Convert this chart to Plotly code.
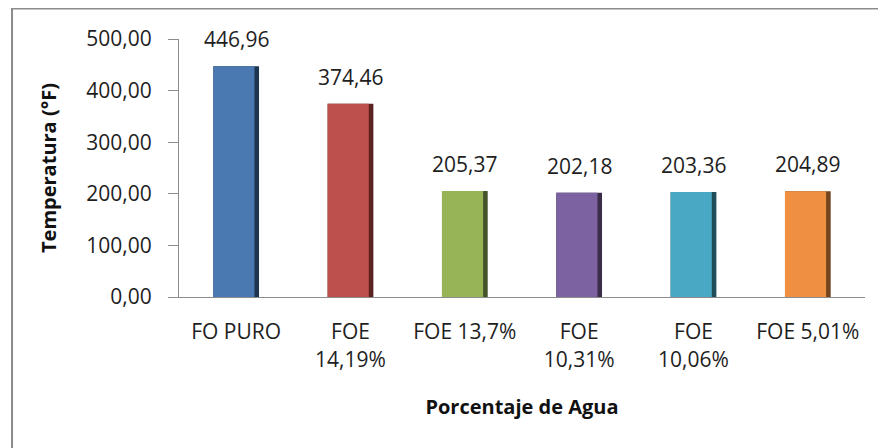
import plotly.graph_objects as go

categories = ["FO PURO", "FOE 14,19%", "FOE 13,7%", "FOE 10,31%", "FOE 10,06%", "FOE 5,01%"]
tick_labels = ["FO PURO", "FOE<br>14,19%", "FOE 13,7%", "FOE<br>10,31%", "FOE<br>10,06%", "FOE 5,01%"]
temperatures = [446.96, 374.46, 205.37, 202.18, 203.36, 204.89]
bar_colors = ["#4a78b0", "#bd4f4c", "#97b556", "#7c62a0", "#49a8c3", "#ef8f42"]
edge_colors = ["#1f344f", "#5a2321", "#46542a", "#3a2d4a", "#214d59", "#71431e"]

y_title = "Temperatura (°F)"
x_title = "Porcentaje de Agua"

FONT = "Open Sans"

fig = go.Figure()
# darker body (acts as right-side shading)
fig.add_trace(go.Bar(
    x=categories, y=temperatures, width=0.4,
    marker=dict(color=edge_colors, line=dict(width=0)),
    hoverinfo="skip", showlegend=False,
))
# main face
fig.add_trace(go.Bar(
    x=categories, y=temperatures, width=0.36, offset=-0.2,
    marker=dict(color=bar_colors, line=dict(width=0)),
    showlegend=False,
))

for c, v in zip(categories, temperatures):
    fig.add_annotation(
        x=c, y=v, xref="x", yref="y", yanchor="bottom", yshift=11,
        text=f"{v:.2f}".replace(".", ","), showarrow=False,
        font=dict(family=FONT, size=21, color="#1e1e1e"),
    )

fig.add_shape(type="rect", xref="paper", yref="paper",
              x0=-0.2434, x1=1.2, y0=-0.8, y1=1.1184,
              line=dict(color="#8c8c8c", width=2), fillcolor="rgba(0,0,0,0)", layer="below")

fig.update_layout(
    width=886, height=448,
    margin=dict(l=171, r=29, t=31, b=159),
    paper_bgcolor="white", plot_bgcolor="white",
    barmode="overlay",
    separators=",.",
    font=dict(family=FONT, size=21, color="#1e1e1e"),
    xaxis=dict(
        tickmode="array", tickvals=categories, ticktext=tick_labels,
        showline=True, linecolor="#8c8c8c", linewidth=1,
        ticks="", showgrid=False, ticklabelstandoff=16,
        tickfont=dict(family=FONT, size=21, color="#1e1e1e"),
        title=dict(text=f"<b>{x_title}</b>", font=dict(family=FONT, size=20, color="#111111"), standoff=28),
    ),
    yaxis=dict(
        range=[0, 500], tickvals=[0, 100, 200, 300, 400, 500], tickformat=".2f",
        showline=True, linecolor="#8c8c8c", linewidth=1,
        ticks="outside", ticklen=10, tickcolor="#8c8c8c", showgrid=False,
        ticklabelstandoff=12,
        tickfont=dict(family=FONT, size=21, color="#1e1e1e"),
        title=dict(text=f"<b>{y_title}</b>", font=dict(family=FONT, size=20, color="#111111"), standoff=24),
        zeroline=False,
    ),
)

fig.write_html("out.html")
